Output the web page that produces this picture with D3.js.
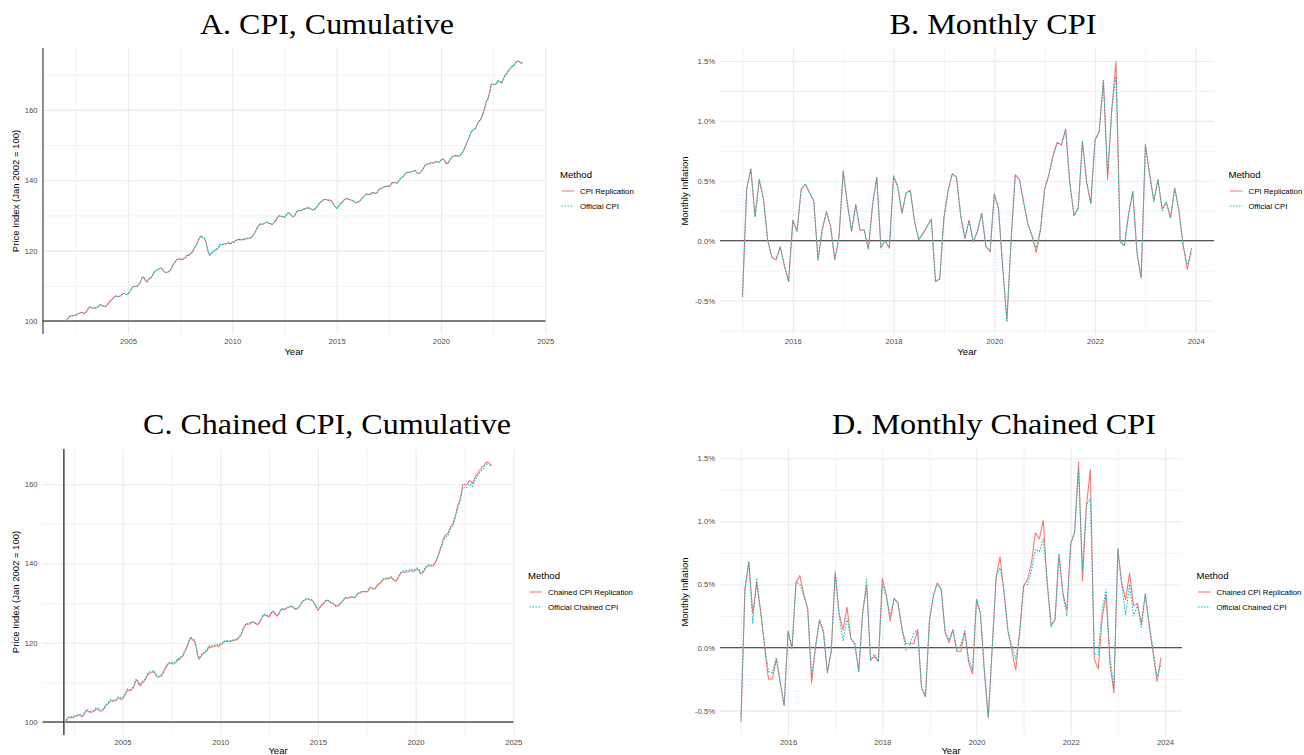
<!DOCTYPE html>
<html>
<head>
<meta charset="utf-8">
<script src="https://cdn.jsdelivr.net/npm/d3@7"></script>
<style>
  body { margin: 0; background: #fff; }
  svg text { font-family: "Liberation Sans", Arial, Helvetica, sans-serif; }
</style>
</head>
<body>
<svg id="chart" width="1304" height="755"></svg>
<script>
// ---------- data ----------
// Monthly series; cumulative indices start Jan 2002, monthly inflation starts Jan 2015.
const cumulativeStartYear = 2002;
const monthlyStartYear = 2015;

// CPI, Jan 2002 = 100
const cpiOfficial = [
  100.0, 100.4, 101.0, 101.5, 101.5, 101.6, 101.7, 102.0, 102.2, 102.4, 102.4, 102.1,
  102.6, 103.4, 104.0, 103.8, 103.6, 103.7, 103.8, 104.2, 104.6, 104.5, 104.2, 104.1,
  104.6, 105.1, 105.8, 106.2, 106.8, 107.1, 106.9, 107.0, 107.2, 107.8, 107.8, 107.5,
  107.7, 108.3, 109.1, 109.9, 109.8, 109.8, 110.3, 110.9, 112.3, 112.5, 111.6, 111.1,
  112.0, 112.2, 112.8, 113.8, 114.3, 114.6, 114.9, 115.1, 114.6, 113.9, 113.8, 113.9,
  114.3, 114.9, 116.0, 116.7, 117.4, 117.6, 117.6, 117.4, 117.7, 118.0, 118.7, 118.6,
  119.2, 119.5, 120.6, 121.3, 122.3, 123.6, 124.2, 123.7, 123.5, 122.3, 119.9, 118.7,
  119.2, 119.8, 120.1, 120.4, 120.8, 121.8, 121.6, 121.9, 121.9, 122.1, 122.2, 121.9,
  122.4, 122.4, 122.9, 123.1, 123.2, 123.1, 123.1, 123.3, 123.3, 123.5, 123.5, 123.8,
  124.3, 125.0, 126.2, 127.0, 127.6, 127.5, 127.6, 127.9, 128.1, 127.8, 127.7, 127.4,
  128.0, 128.6, 129.5, 129.9, 129.8, 129.6, 129.4, 130.1, 130.7, 130.6, 130.0, 129.6,
  130.0, 131.1, 131.4, 131.3, 131.5, 131.8, 131.9, 132.1, 132.2, 131.9, 131.6, 131.6,
  132.1, 132.6, 133.4, 133.9, 134.3, 134.6, 134.5, 134.3, 134.4, 134.1, 133.3, 132.6,
  132.0, 132.5, 133.3, 133.6, 134.3, 134.7, 134.8, 134.6, 134.4, 134.3, 134.0, 133.6,
  133.8, 133.9, 134.5, 135.1, 135.6, 136.1, 135.9, 136.0, 136.3, 136.5, 136.3, 136.3,
  137.1, 137.6, 137.7, 138.1, 138.2, 138.3, 138.2, 138.6, 139.4, 139.3, 139.3, 139.2,
  140.0, 140.6, 140.9, 141.5, 142.1, 142.3, 142.3, 142.4, 142.5, 142.8, 142.3, 141.9,
  142.1, 142.7, 143.5, 144.3, 144.6, 144.6, 144.9, 144.9, 145.0, 145.3, 145.2, 145.1,
  145.7, 146.1, 145.7, 144.8, 144.8, 145.6, 146.3, 146.8, 147.0, 147.0, 146.9, 147.1,
  147.7, 148.5, 149.6, 150.8, 152.0, 153.4, 154.2, 154.5, 154.9, 156.2, 156.9, 157.4,
  158.8, 160.2, 162.3, 163.2, 165.0, 167.3, 167.3, 167.2, 167.6, 168.3, 168.1, 167.6,
  168.9, 169.9, 170.4, 171.3, 171.7, 172.3, 172.6, 173.4, 173.8, 173.7, 173.4, 173.2
];
const cpiReplication = [
  100.0, 100.4, 101.0, 101.5, 101.5, 101.6, 101.7, 102.0, 102.2, 102.4, 102.4, 102.1,
  102.6, 103.4, 104.0, 103.8, 103.6, 103.7, 103.8, 104.2, 104.6, 104.5, 104.2, 104.1,
  104.6, 105.1, 105.8, 106.2, 106.8, 107.1, 106.9, 107.0, 107.2, 107.8, 107.8, 107.5,
  107.7, 108.3, 109.1, 109.9, 109.8, 109.8, 110.3, 110.9, 112.3, 112.5, 111.6, 111.1,
  112.0, 112.2, 112.8, 113.8, 114.3, 114.6, 114.9, 115.1, 114.6, 113.9, 113.8, 113.9,
  114.3, 114.9, 116.0, 116.7, 117.4, 117.6, 117.6, 117.4, 117.7, 118.0, 118.7, 118.6,
  119.2, 119.5, 120.6, 121.3, 122.3, 123.6, 124.2, 123.7, 123.5, 122.3, 119.9, 118.7,
  119.2, 119.8, 120.1, 120.4, 120.8, 121.8, 121.6, 121.9, 121.9, 122.1, 122.2, 121.9,
  122.4, 122.4, 122.9, 123.1, 123.2, 123.1, 123.1, 123.3, 123.3, 123.5, 123.5, 123.8,
  124.3, 125.0, 126.2, 127.0, 127.6, 127.5, 127.6, 127.9, 128.1, 127.8, 127.7, 127.4,
  128.0, 128.6, 129.5, 129.9, 129.8, 129.6, 129.4, 130.1, 130.7, 130.6, 130.0, 129.6,
  130.0, 131.1, 131.4, 131.3, 131.5, 131.8, 131.9, 132.1, 132.2, 131.9, 131.6, 131.6,
  132.1, 132.6, 133.4, 133.9, 134.3, 134.6, 134.5, 134.3, 134.4, 134.1, 133.3, 132.6,
  132.0, 132.5, 133.3, 133.6, 134.3, 134.7, 134.8, 134.6, 134.4, 134.3, 134.0, 133.6,
  133.8, 133.9, 134.5, 135.1, 135.6, 136.1, 135.9, 136.0, 136.3, 136.5, 136.3, 136.3,
  137.1, 137.6, 137.7, 138.1, 138.2, 138.3, 138.2, 138.6, 139.4, 139.3, 139.3, 139.2,
  140.0, 140.6, 140.9, 141.5, 142.1, 142.3, 142.3, 142.4, 142.5, 142.8, 142.3, 141.9,
  142.1, 142.7, 143.5, 144.3, 144.6, 144.6, 144.9, 144.9, 145.0, 145.3, 145.2, 145.1,
  145.7, 146.1, 145.7, 144.8, 144.8, 145.6, 146.3, 146.8, 147.0, 147.0, 146.8, 147.0,
  147.6, 148.4, 149.5, 150.7, 151.9, 153.3, 154.1, 154.4, 154.8, 156.1, 156.8, 157.3,
  158.7, 160.1, 162.2, 163.0, 164.8, 167.3, 167.3, 167.2, 167.6, 168.3, 168.1, 167.6,
  168.9, 169.9, 170.4, 171.3, 171.8, 172.4, 172.7, 173.5, 173.9, 173.8, 173.4, 173.3
];

// Chained CPI, Jan 2002 = 100
const chainedOfficial = [
  100.0, 100.3, 100.9, 101.3, 101.3, 101.3, 101.4, 101.6, 101.8, 101.9, 101.9, 101.5,
  101.9, 102.7, 103.2, 103.0, 102.7, 102.8, 102.9, 103.2, 103.6, 103.5, 103.1, 103.0,
  103.3, 103.8, 104.5, 104.8, 105.4, 105.7, 105.5, 105.6, 105.7, 106.3, 106.3, 106.0,
  106.1, 106.7, 107.5, 108.3, 108.2, 108.2, 108.6, 109.2, 110.6, 110.8, 109.9, 109.4,
  110.2, 110.4, 110.9, 111.9, 112.4, 112.7, 112.8, 113.0, 112.5, 111.7, 111.6, 111.7,
  112.0, 112.6, 113.7, 114.2, 114.9, 115.1, 115.1, 114.9, 115.1, 115.4, 116.1, 116.0,
  116.6, 116.9, 117.9, 118.6, 119.6, 120.9, 121.5, 121.0, 120.8, 119.6, 117.3, 116.1,
  116.7, 117.3, 117.6, 117.9, 118.3, 119.2, 119.0, 119.3, 119.3, 119.5, 119.6, 119.3,
  119.8, 119.8, 120.3, 120.5, 120.6, 120.5, 120.5, 120.7, 120.7, 120.9, 120.9, 121.2,
  121.7, 122.4, 123.5, 124.3, 124.9, 124.8, 124.9, 125.2, 125.4, 125.1, 125.0, 124.7,
  125.3, 125.9, 126.8, 127.2, 127.1, 126.9, 126.7, 127.4, 128.0, 127.9, 127.3, 126.9,
  127.3, 128.3, 128.6, 128.4, 128.6, 128.9, 129.0, 129.2, 129.3, 128.9, 128.6, 128.6,
  128.9, 129.4, 130.2, 130.6, 130.9, 131.2, 131.1, 130.9, 130.9, 130.6, 129.8, 129.2,
  128.3, 128.8, 129.4, 129.7, 130.3, 130.7, 130.8, 130.4, 130.2, 130.1, 129.7, 129.3,
  129.4, 129.5, 130.1, 130.5, 131.0, 131.5, 131.3, 131.4, 131.5, 131.7, 131.5, 131.5,
  132.2, 132.6, 132.6, 133.0, 132.9, 133.0, 132.9, 133.2, 134.0, 133.9, 133.7, 133.6,
  134.3, 134.8, 135.1, 135.6, 136.1, 136.3, 136.3, 136.4, 136.4, 136.7, 136.2, 135.8,
  135.8, 136.4, 137.2, 137.8, 138.1, 138.1, 138.2, 138.2, 138.3, 138.5, 138.4, 138.3,
  138.6, 138.9, 138.6, 137.7, 137.7, 138.3, 139.0, 139.5, 139.7, 139.7, 139.6, 139.7,
  140.3, 141.1, 142.1, 143.3, 144.4, 145.7, 146.5, 146.8, 147.2, 148.4, 149.1, 149.5,
  151.0, 152.4, 154.3, 155.2, 156.9, 159.1, 159.1, 159.0, 159.4, 160.1, 159.9, 159.4,
  160.5, 161.4, 161.9, 162.7, 163.1, 163.7, 164.0, 164.7, 165.1, 165.0, 164.7, 164.5
];
const chainedReplication = [
  100.0, 100.2, 100.8, 101.1, 101.1, 101.1, 101.2, 101.4, 101.6, 101.7, 101.7, 101.3,
  101.6, 102.4, 102.9, 102.7, 102.4, 102.5, 102.6, 102.9, 103.3, 103.2, 102.8, 102.7,
  103.0, 103.5, 104.2, 104.5, 105.1, 105.4, 105.2, 105.3, 105.4, 106.0, 106.0, 105.7,
  105.8, 106.4, 107.2, 108.0, 107.9, 107.9, 108.3, 108.9, 110.3, 110.5, 109.6, 109.1,
  109.9, 110.1, 110.6, 111.6, 112.1, 112.4, 112.5, 112.7, 112.2, 111.4, 111.3, 111.4,
  111.7, 112.3, 113.4, 113.9, 114.6, 114.8, 114.8, 114.6, 114.8, 115.1, 115.8, 115.7,
  116.3, 116.6, 117.6, 118.3, 119.3, 120.6, 121.2, 120.7, 120.5, 119.3, 117.0, 115.8,
  116.4, 117.0, 117.3, 117.6, 118.0, 118.9, 118.7, 119.0, 119.0, 119.2, 119.3, 119.0,
  119.6, 119.6, 120.1, 120.3, 120.4, 120.3, 120.3, 120.5, 120.5, 120.7, 120.7, 121.0,
  121.5, 122.2, 123.3, 124.1, 124.7, 124.6, 124.7, 125.0, 125.2, 124.9, 124.8, 124.5,
  125.1, 125.7, 126.6, 127.0, 126.9, 126.7, 126.5, 127.2, 127.8, 127.7, 127.1, 126.7,
  127.2, 128.2, 128.5, 128.3, 128.5, 128.8, 128.9, 129.1, 129.2, 128.8, 128.5, 128.5,
  128.8, 129.3, 130.1, 130.5, 130.8, 131.1, 131.0, 130.8, 130.8, 130.5, 129.7, 129.1,
  128.2, 128.7, 129.3, 129.6, 130.2, 130.6, 130.7, 130.3, 130.1, 130.0, 129.6, 129.2,
  129.3, 129.4, 130.0, 130.4, 130.9, 131.4, 131.2, 131.3, 131.4, 131.6, 131.4, 131.4,
  132.1, 132.5, 132.5, 132.9, 132.8, 132.9, 132.8, 133.1, 133.9, 133.8, 133.6, 133.5,
  134.1, 134.6, 134.9, 135.4, 135.9, 136.1, 136.1, 136.2, 136.2, 136.5, 136.0, 135.6,
  135.5, 136.1, 136.9, 137.5, 137.8, 137.8, 137.9, 137.9, 138.0, 138.2, 138.1, 138.0,
  138.3, 138.6, 138.3, 137.4, 137.4, 138.0, 138.7, 139.2, 139.4, 139.4, 139.3, 139.4,
  140.1, 141.0, 142.1, 143.5, 144.7, 146.2, 147.0, 147.3, 147.7, 148.9, 149.6, 150.0,
  151.5, 152.9, 154.9, 155.7, 157.4, 159.9, 159.9, 159.8, 160.2, 160.9, 160.7, 160.2,
  161.2, 162.1, 162.6, 163.4, 163.8, 164.4, 164.7, 165.3, 165.6, 165.4, 165.0, 164.7
];

// Monthly CPI inflation, percent
const monthlyCpiOfficial = [
  -0.47, 0.43, 0.60, 0.20, 0.51, 0.35, 0.01, -0.14, -0.16, -0.05, -0.21, -0.34,
  0.17, 0.08, 0.43, 0.47, 0.40, 0.33, -0.16, 0.09, 0.24, 0.12, -0.16, 0.03,
  0.58, 0.31, 0.08, 0.30, 0.09, 0.09, -0.07, 0.30, 0.53, -0.06, 0.00, -0.06,
  0.54, 0.45, 0.23, 0.40, 0.42, 0.16, 0.01, 0.06, 0.12, 0.18, -0.34, -0.32,
  0.19, 0.42, 0.56, 0.53, 0.21, 0.02, 0.17, -0.01, 0.08, 0.23, -0.05, -0.09,
  0.39, 0.27, -0.22, -0.67, 0.00, 0.55, 0.51, 0.32, 0.14, 0.04, -0.06, 0.09,
  0.43, 0.55, 0.71, 0.82, 0.80, 0.93, 0.48, 0.21, 0.27, 0.83, 0.49, 0.31,
  0.84, 0.91, 1.34, 0.56, 1.10, 1.37, -0.01, -0.04, 0.22, 0.41, -0.10, -0.31,
  0.80, 0.56, 0.33, 0.51, 0.25, 0.32, 0.19, 0.44, 0.25, -0.04, -0.20, -0.10
];
const monthlyCpiReplication = [
  -0.47, 0.43, 0.60, 0.20, 0.51, 0.35, 0.01, -0.14, -0.16, -0.05, -0.21, -0.34,
  0.17, 0.08, 0.43, 0.47, 0.40, 0.33, -0.16, 0.09, 0.24, 0.12, -0.16, 0.03,
  0.58, 0.31, 0.08, 0.30, 0.09, 0.09, -0.07, 0.30, 0.53, -0.06, 0.00, -0.06,
  0.54, 0.45, 0.23, 0.40, 0.42, 0.16, 0.01, 0.06, 0.12, 0.18, -0.34, -0.32,
  0.19, 0.42, 0.56, 0.53, 0.21, 0.02, 0.17, -0.01, 0.08, 0.23, -0.05, -0.09,
  0.39, 0.27, -0.22, -0.67, 0.00, 0.55, 0.51, 0.32, 0.14, 0.04, -0.10, 0.09,
  0.43, 0.55, 0.71, 0.82, 0.80, 0.93, 0.48, 0.21, 0.27, 0.83, 0.49, 0.31,
  0.84, 0.91, 1.34, 0.51, 1.10, 1.50, -0.01, -0.04, 0.22, 0.41, -0.10, -0.31,
  0.80, 0.56, 0.33, 0.51, 0.27, 0.32, 0.19, 0.44, 0.25, -0.04, -0.24, -0.06
];

// Monthly chained CPI inflation, percent
const monthlyChainedOfficial = [
  -0.55, 0.46, 0.68, 0.19, 0.55, 0.28, 0.02, -0.19, -0.20, -0.08, -0.28, -0.45,
  0.13, 0.00, 0.52, 0.50, 0.41, 0.30, -0.23, 0.01, 0.21, 0.14, -0.20, -0.02,
  0.60, 0.25, 0.05, 0.23, 0.07, 0.03, -0.19, 0.27, 0.54, -0.10, -0.05, -0.11,
  0.50, 0.41, 0.25, 0.39, 0.35, 0.15, -0.02, 0.02, 0.11, 0.14, -0.32, -0.38,
  0.21, 0.41, 0.51, 0.46, 0.13, 0.06, 0.14, -0.02, 0.02, 0.13, -0.09, -0.18,
  0.38, 0.27, -0.18, -0.55, 0.00, 0.57, 0.63, 0.46, 0.14, 0.01, -0.09, 0.10,
  0.49, 0.50, 0.61, 0.78, 0.76, 0.86, 0.53, 0.16, 0.22, 0.74, 0.43, 0.25,
  0.82, 0.91, 1.40, 0.62, 1.13, 1.18, -0.05, -0.06, 0.29, 0.46, -0.07, -0.32,
  0.78, 0.49, 0.26, 0.50, 0.25, 0.33, 0.16, 0.43, 0.19, -0.02, -0.23, -0.13
];
const monthlyChainedReplication = [
  -0.59, 0.46, 0.68, 0.27, 0.51, 0.29, 0.01, -0.25, -0.25, -0.09, -0.28, -0.46,
  0.13, -0.01, 0.51, 0.57, 0.42, 0.31, -0.28, 0.01, 0.22, 0.12, -0.20, -0.03,
  0.59, 0.27, 0.14, 0.32, 0.07, 0.03, -0.19, 0.28, 0.49, -0.10, -0.07, -0.11,
  0.55, 0.42, 0.21, 0.39, 0.35, 0.15, 0.03, 0.03, 0.03, 0.14, -0.32, -0.39,
  0.21, 0.41, 0.51, 0.46, 0.12, 0.04, 0.14, -0.03, -0.03, 0.13, -0.12, -0.21,
  0.38, 0.27, -0.19, -0.56, 0.00, 0.55, 0.72, 0.43, 0.13, -0.02, -0.18, 0.13,
  0.49, 0.54, 0.67, 0.91, 0.86, 1.01, 0.51, 0.18, 0.22, 0.74, 0.43, 0.30,
  0.82, 0.92, 1.47, 0.53, 1.12, 1.41, -0.09, -0.17, 0.23, 0.42, -0.13, -0.36,
  0.78, 0.51, 0.38, 0.59, 0.33, 0.35, 0.19, 0.42, 0.17, -0.05, -0.27, -0.08
];

// Axis breaks
const cumulativeYearTicks = [2005, 2010, 2015, 2020, 2025];
const cumulativeYearMinor = [2002.5, 2007.5, 2012.5, 2017.5, 2022.5];
const monthlyYearTicks = [2016, 2018, 2020, 2022, 2024];
const monthlyYearMinor = [2015, 2017, 2019, 2021, 2023];
const indexTicks = [100, 120, 140, 160];
const indexMinor = [110, 130, 150, 170];
const pctTicks = [-0.5, 0, 0.5, 1.0, 1.5];
const pctMinor = [-0.75, -0.25, 0.25, 0.75, 1.25];

const RED = "#F8766D";
const CYAN = "#00BFC4";

// ---------- drawing ----------
const svg = d3.select("#chart");
svg.append("rect").attr("width", 1304).attr("height", 755).attr("fill", "#fff");

function expand(values) {
  const [lo, hi] = d3.extent(values);
  const pad = (hi - lo) * 0.05;
  return [lo - pad, hi + pad];
}

const fmtYear = d3.format("d");
const fmtPct = d => (d < 0 ? "-" : "") + Math.abs(d).toFixed(1) + "%";

function drawPanel(o) {
  const g = svg.append("g");
  const n = o.series[0].values.length;
  const years = d3.range(n).map(i => o.start + i / 12);
  const x = d3.scaleLinear().domain(expand(years)).range([o.left, o.right]);
  const y = d3.scaleLinear().domain(expand(o.series.flatMap(s => s.values))).range([o.bottom, o.top]);
  const h = o.bottom - o.top, w = o.right - o.left;
  const inX = v => v >= x.domain()[0] && v <= x.domain()[1];
  const inY = v => v >= y.domain()[0] && v <= y.domain()[1];

  // grid: minor then major
  const grid = (axis, vals, size, width, tr) => {
    const a = g.append("g").attr("transform", tr)
      .call(axis.tickValues(vals).tickSize(size).tickFormat(""));
    a.select(".domain").remove();
    a.selectAll("line").attr("stroke", "#ebebeb").attr("stroke-width", width);
  };
  grid(d3.axisBottom(x), o.xMinor.filter(inX), -h, 0.6, `translate(0,${o.bottom})`);
  grid(d3.axisLeft(y), o.yMinor.filter(inY), -w, 0.6, `translate(${o.left},0)`);
  grid(d3.axisBottom(x), o.xTicks.filter(inX), -h, 1.1, `translate(0,${o.bottom})`);
  grid(d3.axisLeft(y), o.yTicks.filter(inY), -w, 1.1, `translate(${o.left},0)`);

  // reference lines
  g.append("line")
    .attr("x1", o.left).attr("x2", o.right)
    .attr("y1", y(o.hline)).attr("y2", y(o.hline))
    .attr("stroke", "#555").attr("stroke-width", 1.3);
  if (o.vline !== undefined) {
    const vx = o.vline === "left" ? o.left + 0.5 : x(o.vline);
    g.append("line")
      .attr("x1", vx).attr("x2", vx).attr("y1", o.top).attr("y2", o.bottom)
      .attr("stroke", o.vline === "left" ? "#333" : "#000").attr("stroke-width", 1.1);
  }

  // series
  o.series.forEach(s => {
    const line = d3.line().x((d, i) => x(years[i])).y(d => y(d));
    g.append("path").datum(s.values)
      .attr("d", line)
      .attr("fill", "none")
      .attr("stroke", s.color)
      .attr("stroke-width", 1.05)
      .attr("stroke-linejoin", "round")
      .attr("stroke-dasharray", s.dash || null);
  });

  // axis labels
  const xa = g.append("g").attr("transform", `translate(0,${o.bottom})`)
    .call(d3.axisBottom(x).tickValues(o.xTicks).tickSize(0).tickPadding(4.5).tickFormat(fmtYear));
  xa.select(".domain").remove();
  xa.selectAll("text").attr("fill", "#4d4d4d").style("font-size", "7.7px")
    .style("font-family", "'Liberation Sans', Arial, sans-serif");
  const ya = g.append("g").attr("transform", `translate(${o.left},0)`)
    .call(d3.axisLeft(y).tickValues(o.yTicks.filter(inY)).tickSize(0).tickPadding(5).tickFormat(o.yFormat));
  ya.select(".domain").remove();
  ya.selectAll("text").attr("fill", "#4d4d4d").style("font-size", "7.7px")
    .style("font-family", "'Liberation Sans', Arial, sans-serif");

  // axis titles
  g.append("text").attr("x", (o.left + o.right) / 2).attr("y", Math.min(o.bottom + 21, 753.5))
    .attr("text-anchor", "middle").attr("fill", "#000").style("font-size", "9.5px").text("Year");
  g.append("text")
    .attr("transform", `translate(${o.yTitleX + 3.4},${(o.top + o.bottom) / 2}) rotate(-90)`)
    .attr("text-anchor", "middle").attr("fill", "#000").style("font-size", "9.5px").text(o.yTitle);

  // plot title
  g.append("text").attr("x", o.titleX).attr("y", o.titleY)
    .attr("text-anchor", "middle").attr("fill", "#000")
    .attr("textLength", o.titleWidth).attr("lengthAdjust", "spacingAndGlyphs")
    .style("font-family", "'Liberation Serif', 'Times New Roman', serif")
    .style("font-size", "29px").text(o.title);

  // legend
  const lx = o.right + 14.5, ly = (o.top + o.bottom) / 2;
  const lg = g.append("g").attr("transform", `translate(${lx},${ly})`);
  lg.append("text").attr("x", 0).attr("y", -17 + 3.5).attr("fill", "#000")
    .style("font-size", "9.6px").text("Method");
  o.series.forEach((s, i) => {
    const yy = i * 15;
    lg.append("line").attr("x1", 1.5).attr("x2", 14).attr("y1", yy).attr("y2", yy)
      .attr("stroke", s.color).attr("stroke-width", 1.05)
      .attr("stroke-dasharray", s.dash || null);
    lg.append("text").attr("x", 20).attr("y", yy + 2.8).attr("fill", "#000")
      .style("font-size", "7.8px").text(s.name);
  });
}

drawPanel({
  title: "A. CPI, Cumulative", titleX: 327, titleY: 34, titleWidth: 254,
  left: 42.5, right: 545.5, top: 48, bottom: 334,
  start: cumulativeStartYear,
  series: [
    { name: "CPI Replication", values: cpiReplication, color: RED },
    { name: "Official CPI", values: cpiOfficial, color: CYAN, dash: "1.5,1.5" }
  ],
  xTicks: cumulativeYearTicks, xMinor: cumulativeYearMinor,
  yTicks: indexTicks, yMinor: indexMinor, yFormat: fmtYear,
  hline: 100, vline: "left",
  yTitle: "Price Index (Jan 2002 = 100)", yTitleX: 16
});

drawPanel({
  title: "B. Monthly CPI", titleX: 993, titleY: 34, titleWidth: 207,
  left: 720, right: 1214, top: 48, bottom: 334,
  start: monthlyStartYear,
  series: [
    { name: "CPI Replication", values: monthlyCpiReplication, color: RED },
    { name: "Official CPI", values: monthlyCpiOfficial, color: CYAN, dash: "1.5,1.5" }
  ],
  xTicks: monthlyYearTicks, xMinor: monthlyYearMinor,
  yTicks: pctTicks, yMinor: pctMinor, yFormat: fmtPct,
  hline: 0,
  yTitle: "Monthly Inflation", yTitleX: 685
});

drawPanel({
  title: "C. Chained CPI, Cumulative", titleX: 327, titleY: 434, titleWidth: 368,
  left: 42.5, right: 513.5, top: 449, bottom: 735,
  start: cumulativeStartYear,
  series: [
    { name: "Chained CPI Replication", values: chainedReplication, color: RED },
    { name: "Official Chained CPI", values: chainedOfficial, color: CYAN, dash: "1.5,1.5" }
  ],
  xTicks: cumulativeYearTicks, xMinor: cumulativeYearMinor,
  yTicks: indexTicks, yMinor: indexMinor, yFormat: fmtYear,
  hline: 100, vline: cumulativeStartYear,
  yTitle: "Price Index (Jan 2002 = 100)", yTitleX: 16
});

drawPanel({
  title: "D. Monthly Chained CPI", titleX: 994, titleY: 434, titleWidth: 324,
  left: 720, right: 1182, top: 449, bottom: 735,
  start: monthlyStartYear,
  series: [
    { name: "Chained CPI Replication", values: monthlyChainedReplication, color: RED },
    { name: "Official Chained CPI", values: monthlyChainedOfficial, color: CYAN, dash: "1.5,1.5" }
  ],
  xTicks: monthlyYearTicks, xMinor: monthlyYearMinor,
  yTicks: pctTicks, yMinor: pctMinor, yFormat: fmtPct,
  hline: 0,
  yTitle: "Monthly Inflation", yTitleX: 685
});
</script>
</body>
</html>
